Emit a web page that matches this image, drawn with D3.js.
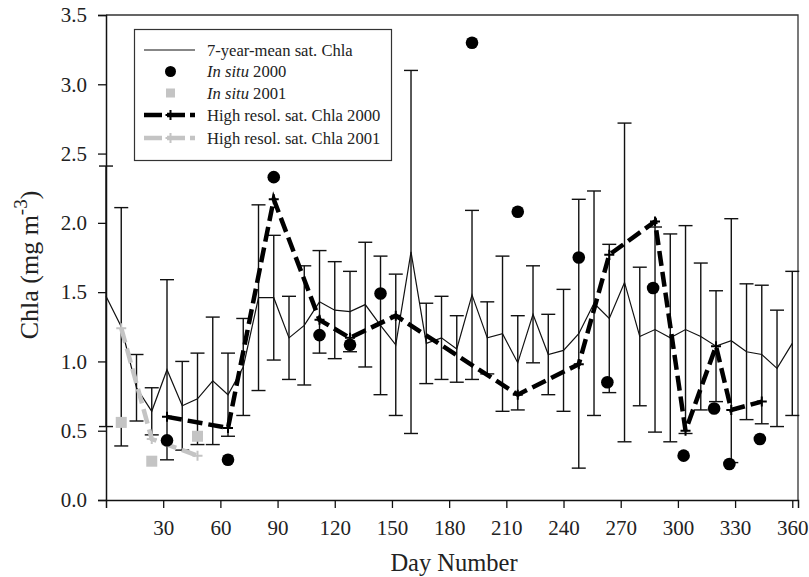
<!DOCTYPE html>
<html>
<head>
<meta charset="utf-8">
<script src="https://cdn.jsdelivr.net/npm/d3@7"></script>
<style>
  body { margin: 0; background: #fff; }
  text { font-family: "Liberation Serif", "Times New Roman", serif; fill: #222; }
</style>
</head>
<body>
<div id="chart"></div>
<script>
// 7-year mean satellite Chla (8-day composites), mean and standard deviation
const meanDays = [0, 8, 16, 24, 32, 40, 48, 56, 64, 72, 80, 88, 96, 104, 112, 120,
  128, 136, 144, 152, 160, 168, 176, 184, 192, 200, 208, 216, 224, 232, 240, 248,
  256, 264, 272, 280, 288, 296, 304, 312, 320, 328, 336, 344, 352, 360];
const meanChla = [1.47, 1.25, 0.81, 0.64, 0.94, 0.68, 0.73, 0.86, 0.76, 0.96, 1.46, 1.46,
  1.17, 1.26, 1.43, 1.37, 1.36, 1.41, 1.26, 1.12, 1.79, 1.13, 1.17, 1.09, 1.48, 1.17,
  1.20, 0.99, 1.34, 1.05, 1.08, 1.20, 1.42, 1.31, 1.57, 1.18, 1.23, 1.17, 1.23, 1.18,
  1.11, 1.15, 1.07, 1.05, 0.95, 1.13];
const sdChla = [0.94, 0.86, 0.24, 0.17, 0.65, 0.32, 0.33, 0.46, 0.30, 0.35, 0.67, 0.45,
  0.30, 0.43, 0.37, 0.35, 0.29, 0.45, 0.50, 0.51, 1.31, 0.29, 0.30, 0.24, 0.61, 0.26,
  0.56, 0.34, 0.35, 0.29, 0.44, 0.97, 0.81, 0.535, 1.15, 0.50, 0.74, 0.75, 0.75, 0.53,
  0.40, 0.88, 0.49, 0.50, 0.42, 0.52];

// In situ measurements
const insitu2000Days = [32, 64, 88, 112, 128, 144, 192, 216, 248, 263, 287, 303, 319, 327, 343];
const insitu2000 = [0.43, 0.29, 2.33, 1.19, 1.12, 1.49, 3.30, 2.08, 1.75, 0.85, 1.53, 0.32, 0.66, 0.26, 0.44];
const insitu2001Days = [8, 24, 48];
const insitu2001 = [0.56, 0.28, 0.46];

// High resolution satellite Chla
const hires2000Days = [32, 64, 88, 112, 128, 152, 216, 248, 264, 288, 304, 320, 328, 344];
const hires2000 = [0.60, 0.52, 2.17, 1.30, 1.17, 1.33, 0.76, 0.98, 1.77, 2.01, 0.50, 1.11, 0.65, 0.71];
const hires2001Days = [8, 24, 48];
const hires2001 = [1.24, 0.44, 0.32];

const xTicks = [30, 60, 90, 120, 150, 180, 210, 240, 270, 300, 330, 360];
const yTicks = [0, 0.5, 1.0, 1.5, 2.0, 2.5, 3.0, 3.5];

const width = 809, height = 577;
const margin = {top: 15, right: 11, bottom: 77, left: 106};
const grey = "#c4c4c4";

const svg = d3.select("#chart").append("svg")
  .attr("width", width)
  .attr("height", height);

const x = d3.scaleLinear().domain([0, 363]).range([margin.left, width - margin.right]);
const y = d3.scaleLinear().domain([0, 3.5]).range([height - margin.bottom, margin.top]);

const zip = (ds, vs) => ds.map((d, i) => ({day: d, v: vs[i]}));
const meanData = meanDays.map((d, i) => ({day: d, v: meanChla[i], sd: sdChla[i]}));

// frame (top and right)
svg.append("path")
  .attr("d", `M${x(0)},${y(3.5)}H${x(363)}V${y(0)}`)
  .attr("fill", "none")
  .attr("stroke", "#333")
  .attr("stroke-width", 1.3);

// axes
const xAxis = svg.append("g")
  .attr("transform", `translate(0,${y(0)})`)
  .call(d3.axisBottom(x).tickValues(xTicks).tickSize(8).tickPadding(12).tickFormat(d3.format("d")));
const yAxis = svg.append("g")
  .attr("transform", `translate(${x(0)},0)`)
  .call(d3.axisLeft(y).tickValues(yTicks).tickSize(8).tickPadding(11).tickFormat(d3.format(".1f")));

[xAxis, yAxis].forEach(g => {
  g.select(".domain").attr("stroke", "#111").attr("stroke-width", 1.5);
  g.selectAll(".tick line").attr("stroke", "#111").attr("stroke-width", 1.3);
  g.selectAll(".tick text")
    .style("font-family", '"Liberation Serif", serif')
    .style("font-size", "21px")
    .attr("fill", "#222");
});

// axis titles
svg.append("text")
  .attr("x", 454)
  .attr("y", 571)
  .attr("text-anchor", "middle")
  .style("font-size", "24.5px")
  .text("Day Number");

const yTitle = svg.append("text")
  .attr("transform", "translate(38,265) rotate(-90)")
  .attr("text-anchor", "middle")
  .style("font-size", "26px");
yTitle.append("tspan").text("Chla (mg m");
yTitle.append("tspan").attr("dy", -11).style("font-size", "19px").text("-3");
yTitle.append("tspan").attr("dy", 11).text(")");

const plot = svg.append("g");

// error bars
const cap = 7;
const bars = plot.selectAll(".err")
  .data(meanData)
  .enter()
  .append("g")
  .attr("class", "err")
  .attr("stroke", "#111")
  .attr("stroke-width", 1.4);
bars.append("line")
  .attr("x1", d => x(d.day)).attr("x2", d => x(d.day))
  .attr("y1", d => y(d.v + d.sd)).attr("y2", d => y(d.v - d.sd));
bars.append("line")
  .attr("x1", d => x(d.day) - cap).attr("x2", d => x(d.day) + cap)
  .attr("y1", d => y(d.v + d.sd)).attr("y2", d => y(d.v + d.sd));
bars.append("line")
  .attr("x1", d => x(d.day) - cap).attr("x2", d => x(d.day) + cap)
  .attr("y1", d => y(d.v - d.sd)).attr("y2", d => y(d.v - d.sd));

const line = d3.line().x(d => x(d.day)).y(d => y(d.v));

// 7-year mean line
plot.append("path")
  .datum(meanData)
  .attr("fill", "none")
  .attr("stroke", "#111")
  .attr("stroke-width", 1.2)
  .attr("d", line);

// high resolution lines
function hiresLine(data, color, w) {
  plot.append("path")
    .datum(data)
    .attr("fill", "none")
    .attr("stroke", color)
    .attr("stroke-width", w)
    .attr("stroke-dasharray", "15,6")
    .attr("d", line);
  plot.selectAll(null)
    .data(data)
    .enter()
    .append("path")
    .attr("d", d => `M${x(d.day) - 5},${y(d.v)}H${x(d.day) + 5}M${x(d.day)},${y(d.v) - 5}V${y(d.v) + 5}`)
    .attr("stroke", color)
    .attr("stroke-width", 2);
}
hiresLine(zip(hires2001Days, hires2001), grey, 4.5);
hiresLine(zip(hires2000Days, hires2000), "#000", 4.5);

// in situ points
plot.selectAll(".sq")
  .data(zip(insitu2001Days, insitu2001))
  .enter()
  .append("rect")
  .attr("x", d => x(d.day) - 5.5)
  .attr("y", d => y(d.v) - 5.5)
  .attr("width", 11)
  .attr("height", 11)
  .attr("fill", grey);

plot.selectAll(".dot")
  .data(zip(insitu2000Days, insitu2000))
  .enter()
  .append("circle")
  .attr("cx", d => x(d.day))
  .attr("cy", d => y(d.v))
  .attr("r", 6.3)
  .attr("fill", "#000");

// legend
const legend = svg.append("g");
legend.append("rect")
  .attr("x", 134.5).attr("y", 29.5)
  .attr("width", 257).attr("height", 131)
  .attr("fill", "#fff")
  .attr("stroke", "#333")
  .attr("stroke-width", 1.2);

const legendItems = [
  {italic: "", rest: "7-year-mean sat. Chla", kind: "mean"},
  {italic: "In situ", rest: " 2000", kind: "dot"},
  {italic: "In situ", rest: " 2001", kind: "sq"},
  {italic: "", rest: "High resol. sat. Chla 2000", kind: "hi2000"},
  {italic: "", rest: "High resol. sat. Chla 2001", kind: "hi2001"}
];
const rowY = [50, 71.5, 93, 115, 138];
const lx1 = 144, lx2 = 195, lmid = 170.5;

legendItems.forEach((it, i) => {
  const g = legend.append("g").attr("transform", `translate(0,${rowY[i]})`);
  if (it.kind === "mean") {
    g.append("line").attr("x1", lx1).attr("x2", lx2).attr("stroke", "#111").attr("stroke-width", 1.2);
  } else if (it.kind === "dot") {
    g.append("circle").attr("cx", lmid).attr("r", 5.5).attr("fill", "#000");
  } else if (it.kind === "sq") {
    g.append("rect").attr("x", lmid - 4.5).attr("y", -4.5).attr("width", 9).attr("height", 9).attr("fill", grey);
  } else {
    const c = it.kind === "hi2000" ? "#000" : grey;
    g.append("line").attr("x1", lx1).attr("x2", lx2)
      .attr("stroke", c).attr("stroke-width", 4.5).attr("stroke-dasharray", "18,5");
    g.append("path").attr("d", `M${lmid - 5},0H${lmid + 5}M${lmid},-5V5`)
      .attr("stroke", c).attr("stroke-width", 2);
  }
  const t = g.append("text")
    .attr("x", 207)
    .attr("y", 5.5)
    .style("font-size", "16.6px");
  if (it.italic) t.append("tspan").style("font-style", "italic").text(it.italic);
  t.append("tspan").text(it.rest);
});
</script>
</body>
</html>
